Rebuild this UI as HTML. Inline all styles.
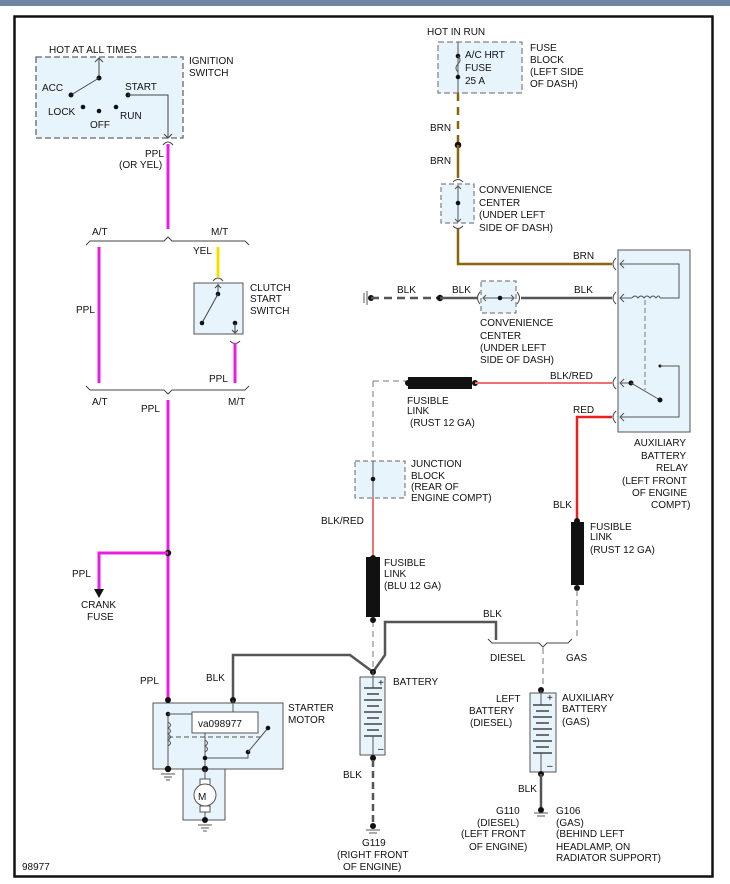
<!DOCTYPE html>
<html><head><meta charset="utf-8"><style>
html,body{margin:0;padding:0;background:#fff;}
svg{display:block;}
text{font-family:"Liberation Sans",Arial,sans-serif;font-size:10px;fill:#111;}
</style></head><body>
<svg width="730" height="884" viewBox="0 0 730 884" xmlns="http://www.w3.org/2000/svg">
<rect x="0" y="0" width="730" height="6" fill="#6d86a3"/>
<rect x="14.5" y="16.5" width="698" height="860" fill="#fff" stroke="#111" stroke-width="2.5"/>

<!-- Ignition switch -->
<rect x="36" y="57" width="147" height="81" fill="#e8f4fc" stroke="#666" stroke-dasharray="6,3" stroke-width="1.3"/>
<text x="49" y="53" font-size="11">HOT AT ALL TIMES</text>
<text x="189" y="64">IGNITION</text><text x="189" y="76">SWITCH</text>
<line x1="99" y1="59" x2="99" y2="78" stroke="#444"/><path d="M95,62 L99,58 L103,62" fill="none" stroke="#444"/>
<circle cx="99" cy="78" r="2.5" fill="#111"/><line x1="99" y1="78" x2="71" y2="95" stroke="#444"/>
<circle cx="71" cy="95" r="2.5" fill="#111"/>
<text x="42" y="91">ACC</text><text x="125" y="90">START</text>
<circle cx="128" cy="95" r="2.5" fill="#111"/><polyline points="128,95 168,95 168,137" fill="none" stroke="#444"/>
<path d="M164,134 L168,138 L172,134" fill="none" stroke="#444"/>
<text x="48" y="115">LOCK</text><circle cx="83" cy="107" r="2.3" fill="#111"/>
<circle cx="99" cy="111" r="2.3" fill="#111"/><circle cx="116" cy="107" r="2.3" fill="#111"/>
<text x="90" y="128">OFF</text><text x="120" y="119">RUN</text>
<path d="M163,145 Q168,139 173,145" fill="none" stroke="#444"/>
<text x="145" y="157">PPL</text><text x="119" y="168">(OR YEL)</text>
<line x1="168" y1="144" x2="168" y2="229" stroke="#e81ee0" stroke-width="3"/>

<!-- braces -->
<path d="M86,245 L90,241 L164,241 L168,237 L172,241 L245,241 L249,245" fill="none" stroke="#444"/>
<text x="92" y="235">A/T</text><text x="211" y="235">M/T</text>
<line x1="99" y1="247" x2="99" y2="383" stroke="#e81ee0" stroke-width="3"/>
<text x="76" y="313">PPL</text>
<text x="193" y="254">YEL</text>
<line x1="218" y1="247" x2="218" y2="277" stroke="#f0e000" stroke-width="3"/>
<path d="M213,281 Q218,275 223,281" fill="none" stroke="#444"/>
<rect x="194" y="283" width="49" height="51" fill="#e8f4fc" stroke="#555"/>
<line x1="218" y1="284" x2="218" y2="294" stroke="#444"/><path d="M215,288 L218,285 L221,288" fill="none" stroke="#444"/>
<circle cx="218" cy="294" r="2.3" fill="#111"/><line x1="218" y1="294" x2="202" y2="323" stroke="#444"/>
<circle cx="202" cy="323" r="2.3" fill="#111"/>
<circle cx="235" cy="323" r="2.3" fill="#111"/><line x1="235" y1="323" x2="235" y2="333" stroke="#444"/>
<path d="M232,330 L235,333 L238,330" fill="none" stroke="#444"/>
<text x="250" y="291">CLUTCH</text><text x="250" y="302">START</text><text x="250" y="314">SWITCH</text>
<path d="M230,341 Q235,346 240,341" fill="none" stroke="#444"/>
<line x1="235" y1="343" x2="235" y2="383" stroke="#e81ee0" stroke-width="3"/>
<text x="209" y="382">PPL</text>
<path d="M86,386 L90,390 L164,390 L168,394 L172,390 L245,390 L249,386" fill="none" stroke="#444"/>
<text x="92" y="405">A/T</text><text x="141" y="412">PPL</text><text x="228" y="405">M/T</text>
<line x1="168" y1="400" x2="168" y2="700" stroke="#e81ee0" stroke-width="3"/>
<circle cx="168" cy="553" r="3.2" fill="#111"/>
<polyline points="168,553 99,553 99,590" fill="none" stroke="#e81ee0" stroke-width="3"/>
<path d="M94,589 L104,589 L99,598 Z" fill="#111"/>
<text x="72" y="577">PPL</text><text x="81" y="608">CRANK</text><text x="87" y="620">FUSE</text>

<!-- Starter -->
<text x="140" y="684">PPL</text><text x="206" y="681">BLK</text>
<polyline points="233,700 233,655 350,655 373,672" fill="none" stroke="#555" stroke-width="2.5"/>
<polyline points="373,672 385,655 385,622 496,622 496,640" fill="none" stroke="#555" stroke-width="2.5"/>
<rect x="153" y="703" width="130" height="66" fill="#e8f4fc" stroke="#555"/>
<rect x="183" y="769" width="42" height="51" fill="#e8f4fc" stroke="#555"/>
<circle cx="168" cy="700" r="3" fill="#111"/><circle cx="233" cy="700" r="3" fill="#111"/>
<line x1="233" y1="700" x2="233" y2="712" stroke="#555"/>
<line x1="168" y1="714" x2="168" y2="769" stroke="#555"/><circle cx="168" cy="714" r="2.3" fill="#111"/>
<line x1="168" y1="714" x2="192" y2="714" stroke="#555"/>
<path d="M168,722 q5,3 0,6 q5,3 0,6 q5,3 0,6 q5,3 0,6" fill="none" stroke="#555"/>
<line x1="168" y1="737" x2="262" y2="737" stroke="#555" stroke-dasharray="5,3"/>
<rect x="192" y="712" width="66" height="21" fill="#fff" stroke="#555"/>
<text x="198" y="727" font-size="12" fill="#333">va098977</text>
<line x1="205" y1="733" x2="205" y2="769" stroke="#555"/>
<path d="M205,740 q5,3 0,6 q5,3 0,6" fill="none" stroke="#555"/>
<polyline points="205,758 248,758 248,752" fill="none" stroke="#555"/>
<circle cx="248" cy="752" r="2.3" fill="#111"/><line x1="248" y1="752" x2="268" y2="728" stroke="#555"/>
<circle cx="268" cy="728" r="2.3" fill="#111"/>
<circle cx="205" cy="758" r="2.3" fill="#111"/>
<circle cx="168" cy="769" r="3.2" fill="#111"/><circle cx="205" cy="769" r="3.2" fill="#111"/>
<g stroke="#555"><line x1="161" y1="774" x2="175" y2="774"/><line x1="164" y1="777" x2="172" y2="777"/><line x1="166" y1="780" x2="170" y2="780"/></g>
<line x1="205" y1="769" x2="205" y2="820" stroke="#555"/>
<rect x="200" y="779" width="10" height="6" fill="#fff" stroke="#555"/><rect x="200" y="806" width="10" height="6" fill="#fff" stroke="#555"/>
<circle cx="205" cy="795" r="11" fill="#fff" stroke="#555"/>
<text x="198" y="800" font-size="13" fill="#8a6200">M</text>
<circle cx="205" cy="820" r="3" fill="#111"/>
<g stroke="#555"><line x1="198" y1="825" x2="212" y2="825"/><line x1="201" y1="828" x2="209" y2="828"/><line x1="203" y1="831" x2="207" y2="831"/></g>
<text x="288" y="711">STARTER</text><text x="288" y="723">MOTOR</text>

<!-- Battery -->
<rect x="360" y="677" width="25" height="78" fill="#e8f4fc" stroke="#555"/>
<circle cx="373" cy="672" r="3" fill="#111"/>
<line x1="373" y1="672" x2="373" y2="688" stroke="#555"/>
<g stroke="#444" stroke-width="1.5"><line x1="364" y1="688" x2="382" y2="688"/><line x1="367" y1="694" x2="379" y2="694"/><line x1="364" y1="700" x2="382" y2="700"/><line x1="367" y1="706" x2="379" y2="706"/><line x1="364" y1="712" x2="382" y2="712"/><line x1="367" y1="718" x2="379" y2="718"/><line x1="364" y1="724" x2="382" y2="724"/><line x1="367" y1="730" x2="379" y2="730"/><line x1="364" y1="736" x2="382" y2="736"/></g>
<line x1="373" y1="736" x2="373" y2="755" stroke="#555"/>
<text x="378" y="686" font-size="8">+</text><text x="378" y="752" font-size="8">–</text>
<text x="393" y="685">BATTERY</text>
<circle cx="373" cy="758" r="3" fill="#111"/>
<line x1="373" y1="760" x2="373" y2="825" stroke="#555" stroke-width="2.5" stroke-dasharray="7,4"/>
<text x="343" y="778">BLK</text>
<circle cx="373" cy="826" r="3" fill="#111"/>
<g stroke="#555"><line x1="366" y1="830" x2="380" y2="830"/><line x1="369" y1="833" x2="377" y2="833"/></g>
<text x="362" y="846">G119</text><text x="337" y="858">(RIGHT FRONT</text><text x="343" y="870">OF ENGINE)</text>

<!-- BLU fusible link & junction -->
<line x1="373" y1="381" x2="373" y2="672" stroke="#777" stroke-dasharray="6,4"/>
<line x1="373" y1="381" x2="408" y2="381" stroke="#777" stroke-dasharray="6,4"/>
<rect x="355" y="461" width="50" height="37" fill="#e8f4fc" stroke="#666" stroke-dasharray="5,3"/>
<line x1="373" y1="461" x2="373" y2="498" stroke="#555"/><circle cx="373" cy="479" r="2.3" fill="#111"/>
<text x="411" y="467">JUNCTION</text><text x="411" y="479">BLOCK</text><text x="411" y="490">(REAR OF</text><text x="411" y="501">ENGINE COMPT)</text>
<line x1="373" y1="498" x2="373" y2="557" stroke="#f07070" stroke-width="2"/>
<text x="321" y="524">BLK/RED</text>
<rect x="366" y="557" width="14" height="60" fill="#111"/>
<circle cx="373" cy="558" r="3" fill="#111"/><circle cx="373" cy="620" r="3" fill="#111"/>
<text x="384" y="566">FUSIBLE</text><text x="384" y="577">LINK</text><text x="384" y="589">(BLU 12 GA)</text>

<!-- rust link top -->
<rect x="408" y="377" width="64" height="12" fill="#111"/>
<circle cx="408" cy="383" r="3" fill="#111"/><circle cx="475" cy="383" r="3" fill="#111"/>
<line x1="475" y1="383" x2="612" y2="383" stroke="#f07070" stroke-width="2"/>
<text x="550" y="379">BLK/RED</text>
<text x="407" y="404">FUSIBLE</text><text x="407" y="414">LINK</text><text x="410" y="426">(RUST 12 GA)</text>

<!-- relay -->
<rect x="618" y="250" width="72" height="182" fill="#e8f4fc" stroke="#555"/>
<g fill="none" stroke="#444"><path d="M616,258 Q610,264 616,270"/><path d="M616,292 Q610,298 616,304"/><path d="M616,377 Q610,383 616,389"/><path d="M616,411 Q610,417 616,423"/></g>
<polyline points="620,264 679,264 679,298 660,298" fill="none" stroke="#555"/>
<path d="M624,260 L620,264 L624,268 M624,294 L620,298 L624,302 M624,379 L620,383 L624,387 M624,413 L620,417 L624,421" fill="none" stroke="#555"/>
<line x1="620" y1="298" x2="632" y2="298" stroke="#555"/>
<path d="M632,298 q3,-4 6,0 q3,-4 6,0 q3,-4 6,0 q3,-4 6,0 q3,-4 4,0" fill="none" stroke="#555"/>
<line x1="645" y1="300" x2="645" y2="390" stroke="#777" stroke-dasharray="5,3"/>
<line x1="620" y1="383" x2="631" y2="383" stroke="#555"/><circle cx="631" cy="383" r="2.5" fill="#111"/>
<line x1="631" y1="383" x2="660" y2="400" stroke="#555"/><circle cx="660" cy="400" r="2.5" fill="#111"/>
<circle cx="660" cy="366" r="1.5" fill="#111"/>
<polyline points="660,366 679,366 679,417 620,417" fill="none" stroke="#555"/>
<text x="634" y="446">AUXILIARY</text><text x="641" y="459">BATTERY</text><text x="656" y="471">RELAY</text><text x="622" y="484">(LEFT FRONT</text><text x="632" y="496">OF ENGINE</text><text x="651" y="508">COMPT)</text>

<!-- red wire to rust link 2 -->
<polyline points="612,417 577,417 577,521" fill="none" stroke="#ee1c1c" stroke-width="2.5"/>
<text x="573" y="413">RED</text><text x="553" y="508">BLK</text>
<rect x="571" y="522" width="13" height="63" fill="#111"/>
<circle cx="577" cy="521" r="3" fill="#111"/><circle cx="577" cy="588" r="3" fill="#111"/>
<text x="590" y="530">FUSIBLE</text><text x="590" y="540">LINK</text><text x="590" y="553">(RUST 12 GA)</text>
<line x1="577" y1="590" x2="577" y2="640" stroke="#777" stroke-dasharray="6,4"/>
<text x="483" y="617">BLK</text>
<path d="M488,639 L492,643 L539,643 L543,647 L547,643 L568,643 L572,639" fill="none" stroke="#444"/>
<text x="490" y="661">DIESEL</text><text x="566" y="661">GAS</text>
<line x1="543" y1="648" x2="543" y2="690" stroke="#777" stroke-dasharray="6,4"/>

<!-- left battery -->
<circle cx="541" cy="690" r="3" fill="#111"/>
<rect x="530" y="693" width="26" height="79" fill="#e8f4fc" stroke="#555"/>
<line x1="541" y1="690" x2="541" y2="705" stroke="#555"/>
<g stroke="#444" stroke-width="1.5"><line x1="533" y1="705" x2="552" y2="705"/><line x1="536" y1="711" x2="549" y2="711"/><line x1="533" y1="717" x2="552" y2="717"/><line x1="536" y1="723" x2="549" y2="723"/><line x1="533" y1="729" x2="552" y2="729"/><line x1="536" y1="735" x2="549" y2="735"/><line x1="533" y1="741" x2="552" y2="741"/><line x1="536" y1="747" x2="549" y2="747"/><line x1="533" y1="753" x2="552" y2="753"/></g>
<line x1="541" y1="753" x2="541" y2="772" stroke="#555"/>
<text x="547" y="701" font-size="8">+</text><text x="547" y="769" font-size="8">–</text>
<circle cx="541" cy="774" r="3" fill="#111"/>
<line x1="541" y1="774" x2="541" y2="808" stroke="#555" stroke-width="2.5"/>
<text x="518" y="792">BLK</text>
<circle cx="541" cy="810" r="3" fill="#111"/>
<g stroke="#555"><line x1="534" y1="813" x2="548" y2="813"/><line x1="537" y1="816" x2="545" y2="816"/></g>
<text x="496" y="702">LEFT</text><text x="469" y="714">BATTERY</text><text x="470" y="726">(DIESEL)</text>
<text x="562" y="701">AUXILIARY</text><text x="562" y="712">BATTERY</text><text x="562" y="725">(GAS)</text>
<text x="496" y="814">G110</text><text x="477" y="826">(DIESEL)</text><text x="461" y="837">(LEFT FRONT</text><text x="469" y="850">OF ENGINE)</text>
<text x="556" y="814">G106</text><text x="556" y="826">(GAS)</text><text x="556" y="837">(BEHIND LEFT</text><text x="556" y="850">HEADLAMP, ON</text><text x="556" y="861">RADIATOR SUPPORT)</text>

<!-- top right fuse -->
<text x="427" y="35">HOT IN RUN</text>
<rect x="438" y="42" width="84" height="51" fill="#e8f4fc" stroke="#666" stroke-dasharray="6,3"/>
<line x1="458" y1="42" x2="458" y2="93" stroke="#555"/>
<circle cx="458" cy="56" r="2.3" fill="#111"/><path d="M458,56 q4,4 0,8 q-4,4 0,8" fill="none" stroke="#555"/><circle cx="458" cy="77" r="2.3" fill="#111"/>
<text x="465" y="58">A/C HRT</text><text x="465" y="71">FUSE</text><text x="465" y="84">25 A</text>
<text x="530" y="51">FUSE</text><text x="530" y="63">BLOCK</text><text x="530" y="75">(LEFT SIDE</text><text x="530" y="87">OF DASH)</text>
<line x1="458" y1="93" x2="458" y2="143" stroke="#8b6508" stroke-width="2.5" stroke-dasharray="8,6"/>
<text x="430" y="131">BRN</text>
<circle cx="458" cy="145" r="3.3" fill="#111"/>
<line x1="458" y1="145" x2="458" y2="178" stroke="#8b6508" stroke-width="2.5"/>
<text x="430" y="164">BRN</text>
<path d="M453,182 Q458,177 463,182" fill="none" stroke="#444"/>
<rect x="441" y="184" width="33" height="39" fill="#e8f4fc" stroke="#666" stroke-dasharray="5,3"/>
<line x1="458" y1="185" x2="458" y2="222" stroke="#555"/><circle cx="458" cy="203" r="2.3" fill="#111"/>
<path d="M455,189 L458,186 L461,189 M455,219 L458,222 L461,219" fill="none" stroke="#555"/>
<path d="M453,226 Q458,231 463,226" fill="none" stroke="#444"/>
<text x="479" y="193">CONVENIENCE</text><text x="479" y="206">CENTER</text><text x="479" y="218">(UNDER LEFT</text><text x="479" y="231">SIDE OF DASH)</text>
<polyline points="458,229 458,264 612,264" fill="none" stroke="#8b6508" stroke-width="2.5"/>
<text x="573" y="259">BRN</text>

<!-- BLK ground line -->
<g stroke="#555"><line x1="364" y1="293" x2="364" y2="303"/><line x1="367" y1="291" x2="367" y2="305"/></g>
<circle cx="371" cy="298" r="3" fill="#111"/>
<line x1="371" y1="298" x2="440" y2="298" stroke="#555" stroke-width="2.5" stroke-dasharray="8,5"/>
<circle cx="440" cy="298" r="3.2" fill="#111"/>
<line x1="440" y1="298" x2="477" y2="298" stroke="#555" stroke-width="2.5"/>
<text x="397" y="293">BLK</text><text x="452" y="293">BLK</text><text x="574" y="293">BLK</text>
<path d="M480,292 Q475,298 480,304" fill="none" stroke="#444"/>
<rect x="481" y="281" width="35" height="32" fill="#e8f4fc" stroke="#666" stroke-dasharray="5,3"/>
<line x1="483" y1="298" x2="514" y2="298" stroke="#555"/><circle cx="500" cy="298" r="2.3" fill="#111"/>
<path d="M486,295 L483,298 L486,301 M511,295 L514,298 L511,301" fill="none" stroke="#555"/>
<path d="M517,292 Q522,298 517,304" fill="none" stroke="#444"/>
<line x1="521" y1="298" x2="612" y2="298" stroke="#555" stroke-width="2.5"/>
<text x="480" y="326">CONVENIENCE</text><text x="480" y="339">CENTER</text><text x="480" y="351">(UNDER LEFT</text><text x="480" y="363">SIDE OF DASH)</text>

<text x="22" y="870" font-size="9">98977</text>
</svg>
</body></html>
